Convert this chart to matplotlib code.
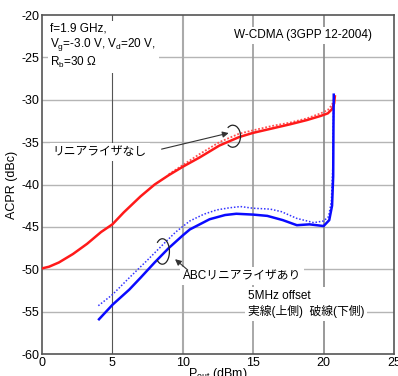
import matplotlib
matplotlib.use("Agg")
import matplotlib.pyplot as plt
from matplotlib.patches import Arc

plt.rcParams['font.family'] = ['Liberation Sans', 'Noto Sans CJK JP', 'DejaVu Sans']
plt.rcParams['axes.unicode_minus'] = False

# data
red_solid_x = [0.0, 0.5, 1.2, 2.2, 3.2, 4.2, 5.0, 5.8, 7.0, 8.0, 9.0, 10.0, 11.2, 12.6, 14.0, 15.0,
               16.3, 17.6, 18.8, 19.8, 20.3, 20.6, 20.75, 20.8]
red_solid_y = [-49.9, -49.7, -49.2, -48.2, -47.0, -45.6, -44.7, -43.3, -41.4, -40.0, -38.9, -37.9,
               -36.8, -35.4, -34.4, -33.9, -33.4, -32.9, -32.4, -31.9, -31.6, -31.1, -30.4, -29.6]
red_dot_x = [9.0, 10.0, 11.2, 12.6, 14.0, 15.0, 16.3, 17.6, 18.8, 19.8, 20.3, 20.6, 20.75]
red_dot_y = [-38.8, -37.7, -36.4, -35.0, -34.0, -33.6, -33.1, -32.7, -32.2, -31.6, -31.2, -30.6, -29.8]
blue_solid_x = [4.05, 5.0, 6.2, 7.0, 8.0, 9.0, 10.0, 10.5, 11.9, 13.0, 13.8, 15.0, 16.0, 17.1, 18.1,
                19.0, 20.0, 20.4, 20.6, 20.68, 20.7, 20.72]
blue_solid_y = [-55.9, -54.2, -52.4, -51.0, -49.2, -47.5, -46.0, -45.3, -44.1, -43.6, -43.45, -43.55,
                -43.7, -44.2, -44.8, -44.7, -44.9, -44.2, -42.5, -39.0, -33.0, -29.4]
blue_dot_x = [4.0, 5.0, 6.2, 7.5, 8.7, 9.5, 10.5, 11.5, 12.4, 13.3, 14.1, 15.0, 16.2, 17.0, 18.1,
              19.3, 20.0, 20.35, 20.55, 20.65, 20.7]
blue_dot_y = [-54.3, -53.0, -51.0, -48.9, -46.9, -45.6, -44.3, -43.5, -43.0, -42.75, -42.6, -42.8,
              -42.9, -43.2, -44.0, -44.5, -44.3, -43.8, -42.0, -38.0, -31.0]

fig = plt.figure(figsize=(3.98, 3.76), dpi=100)
ax = fig.add_axes([0.1055, 0.0585, 0.8845, 0.9015])

ax.set_xlim(0, 25)
ax.set_ylim(-60, -20)
ax.set_xticks([0, 5, 10, 15, 20, 25])
ax.set_yticks([-60, -55, -50, -45, -40, -35, -30, -25, -20])
ax.tick_params(length=0, labelsize=9, pad=2)
for sp in ax.spines.values():
    sp.set_color('#555555')
    sp.set_linewidth(1.2)

for yv in range(-55, -20, 5):
    ax.axhline(yv, color='#b5b5b5', lw=1.0, zorder=0)
for xv, c, w in [(5, '#555555', 0.8), (10, '#aaaaaa', 1.5), (15, '#999999', 1.2), (20, '#888888', 1.2)]:
    ax.axvline(xv, color=c, lw=w, zorder=0)

ax.plot(red_dot_x, red_dot_y, color='#ff5050', lw=1.3, ls=(0, (1, 1)), zorder=3)
ax.plot(red_solid_x, red_solid_y, color='#ff1a1a', lw=1.8, zorder=4)
ax.plot(blue_dot_x, blue_dot_y, color='#3333ff', lw=1.1, ls=(0, (1, 1.2)), zorder=3)
ax.plot(blue_solid_x, blue_solid_y, color='#0a0aff', lw=1.8, zorder=4)

box = dict(facecolor='white', edgecolor='none', pad=2)
ax.text(0.6, -20.9, 'f=1.9 GHz,\nV$_\\mathregular{g}$=-3.0 V, V$_\\mathregular{d}$=20 V,\nR$_\\mathregular{b}$=30 Ω',
        fontsize=8.5, va='top', ha='left', linespacing=1.15, bbox=box, zorder=5)
ax.text(18.55, -22.4, 'W-CDMA (3GPP 12-2004)', fontsize=8.5, ha='center', va='center', bbox=box, zorder=5)
ax.text(4.1, -36.2, 'リニアライザなし', fontsize=8.5, ha='center', va='center', bbox=box, zorder=5)
ax.text(14.2, -50.8, 'ABCリニアライザあり', fontsize=8.5, ha='center', va='center', bbox=box, zorder=5)
ax.text(14.6, -54.1, '5MHz offset\n実線(上側)  破線(下側)', fontsize=8.5, ha='left', va='center',
        linespacing=1.35, bbox=box, zorder=5)

ax.annotate('', xy=(13.45, -33.85), xytext=(8.3, -35.9),
            arrowprops=dict(arrowstyle='-|>', color='#333333', lw=0.8, mutation_scale=9), zorder=6)
ax.annotate('', xy=(9.3, -48.6), xytext=(10.5, -50.3),
            arrowprops=dict(arrowstyle='-|>', color='#333333', lw=0.8, mutation_scale=9), zorder=6)
ax.add_patch(Arc((13.55, -34.3), 1.1, 2.6, theta1=-110, theta2=110, color='#222222', lw=0.9, zorder=6))
ax.add_patch(Arc((8.55, -47.9), 1.0, 3.0, theta1=-110, theta2=110, color='#222222', lw=0.9, zorder=6))

ax.set_ylabel('ACPR (dBc)', fontsize=9, labelpad=2)
ax.set_xlabel('P$_\\mathregular{out}$ (dBm)', fontsize=9)
ax.xaxis.set_label_coords(0.5, -0.035)

fig.savefig('out.png', dpi=100)
